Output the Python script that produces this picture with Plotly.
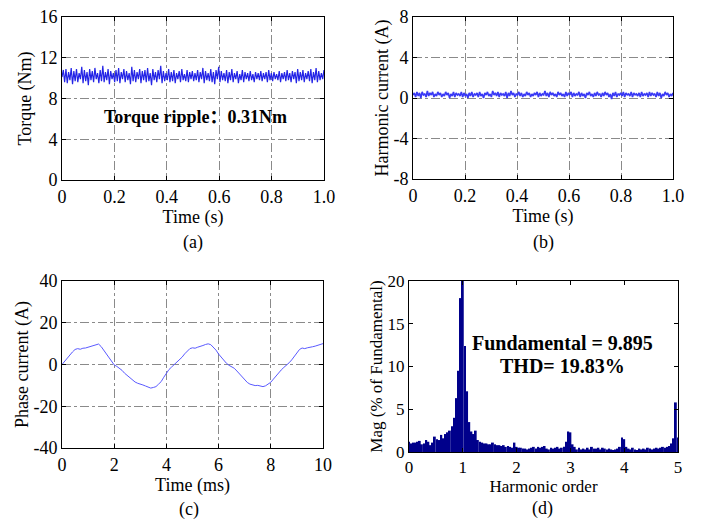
import numpy as np
import plotly.graph_objects as go

# (a) electromagnetic torque, Nm, sampled evenly over 0-1 s
torque = [10.1, 10.8, 9.6, 10.9, 9.5, 10.6, 9.8, 11.0, 9.4, 10.7, 9.7, 10.9, 9.6, 10.5, 9.9, 11.1, 9.5, 10.8, 9.7, 10.6,
          9.3, 10.9, 9.8, 10.7, 9.6, 11.0, 9.9, 10.5, 9.5, 10.8, 9.7, 11.2, 9.6, 10.6, 9.8, 10.9, 9.4, 10.7, 9.9, 10.5,
          9.6, 10.8, 9.7, 11.0, 9.5, 10.6, 9.9, 10.9, 9.6, 10.7, 9.8, 10.5, 9.4, 11.1, 9.7, 10.8, 9.6, 10.6, 9.9, 10.9,
          9.5, 10.7, 9.8, 10.8, 9.6, 11.0, 9.7, 10.5, 9.3, 10.9, 9.8, 10.6, 9.6, 10.8, 9.9, 11.2, 9.5, 10.7, 9.7, 10.5,
          9.8, 10.9, 9.6, 10.6, 9.7, 10.8, 9.5, 10.5, 9.9, 10.7, 9.6, 10.9, 9.8, 10.4, 9.7, 10.8, 9.6, 10.6, 9.9, 10.7,
          9.7, 10.5, 9.8, 10.8, 9.6, 10.6, 9.9, 11.0, 9.5, 10.7, 9.8, 10.5, 9.7, 10.9, 9.6, 10.6, 9.4, 10.8, 9.9, 11.1,
          9.6, 10.7, 9.8, 10.5, 9.7, 10.8, 9.5, 10.6, 9.8, 10.9, 9.6, 10.5, 9.9, 10.7, 9.5, 10.4, 9.8, 10.8, 9.6, 10.6,
          9.9, 10.5, 9.7, 10.7, 9.8, 10.4, 9.6, 10.6, 9.9, 10.5, 9.8, 10.7, 9.7, 10.5, 9.9, 10.6, 9.6, 10.8, 9.8, 10.5,
          9.7, 10.6, 9.9, 10.4, 9.8, 10.7, 9.6, 10.5, 9.9, 10.6, 9.7, 10.8, 9.8, 10.5, 9.6, 10.7, 9.9, 10.6, 9.5, 10.9,
          9.7, 10.6, 9.8, 10.8, 9.6, 10.5, 9.9, 10.7, 9.7, 10.9, 9.5, 10.6, 9.8, 11.0, 9.6, 10.7, 9.8, 10.5, 9.9, 10.8]

# (b) harmonic current, A, over 0-1 s
harm_current = [0.3, 0.5, 0.1, 0.6, 0.2, 0.5, 0.0, 0.6, 0.3, 0.4, 0.1, 0.7, 0.2, 0.5, 0.3, 0.6, 0.1, 0.4, 0.2, 0.6,
                0.3, 0.5, 0.1, 0.4, 0.2, 0.6, 0.3, 0.5, 0.0, 0.4, 0.2, 0.6, 0.1, 0.5, 0.3, 0.4, 0.2, 0.6, 0.1, 0.5,
                0.2, 0.4, 0.0, 0.5, 0.2, 0.6, 0.1, 0.4, 0.3, 0.5, 0.1, 0.6, 0.2, 0.4, 0.0, 0.5, 0.3, 0.6, 0.2, 0.4,
                0.1, 0.7, 0.3, 0.5, 0.2, 0.6, 0.1, 0.5, 0.3, 0.4, 0.2, 0.6, 0.0, 0.5, 0.2, 0.7, 0.3, 0.5, 0.1, 0.4,
                0.3, 0.6, 0.2, 0.5, 0.1, 0.4, 0.2, 0.6, 0.3, 0.5, 0.1, 0.4, 0.2, 0.5, 0.3, 0.6, 0.1, 0.5, 0.2, 0.4,
                0.3, 0.7, 0.2, 0.5, 0.1, 0.6, 0.3, 0.5, 0.2, 0.4, 0.1, 0.6, 0.3, 0.5, 0.2, 0.4, 0.1, 0.6, 0.2, 0.5,
                0.3, 0.6, 0.1, 0.5, 0.2, 0.4, 0.3, 0.6, 0.1, 0.5, 0.2, 0.4, 0.0, 0.5, 0.3, 0.6, 0.2, 0.4, 0.1, 0.5,
                0.2, 0.6, 0.3, 0.4, 0.1, 0.5, 0.2, 0.6, 0.3, 0.5, 0.1, 0.4, -0.1, 0.5, 0.2, 0.6, 0.1, 0.4, 0.3, 0.5,
                0.2, 0.6, 0.1, 0.5, 0.3, 0.4, 0.2, 0.6, 0.1, 0.5, 0.3, 0.4, 0.2, 0.5, 0.1, 0.6, 0.2, 0.4, 0.3, 0.5,
                0.1, 0.6, 0.2, 0.5, 0.3, 0.4, 0.1, 0.6, 0.2, 0.5, 0.0, 0.4, 0.2, 0.6, 0.3, 0.5, 0.1, 0.4, 0.2, 0.5]

# (c) phase current, A, every 0.1 ms over 0-10 ms
phase_current = [0.0, 1.5, 3.2, 4.8, 6.0, 7.2, 7.6, 7.3, 7.8, 7.9,
                 8.3, 8.6, 8.9, 9.4, 9.8, 8.6, 6.8, 4.9, 3.0, 1.2,
                 -0.2, -0.9, -1.8, -2.8, -4.2, -5.3, -6.5, -7.6, -8.4, -9.0,
                 -9.3, -9.8, -10.3, -10.9, -11.3, -11.0, -10.6, -9.4, -8.2, -6.1,
                 -3.9, -2.4, -1.2, -0.1, 1.0, 2.3, 3.5, 5.1, 6.6, 7.6,
                 8.0, 7.8, 8.3, 8.6, 9.1, 9.6, 9.9, 9.5, 8.4, 6.9,
                 5.0, 3.4, 1.8, 0.6, -0.4, -1.0, -1.8, -3.1, -4.6, -6.0,
                 -7.5, -8.6, -9.4, -9.9, -10.1, -10.0, -10.4, -10.6, -10.2, -9.4,
                 -8.5, -7.0, -5.4, -3.8, -2.6, -1.4, -0.4, 0.8, 2.2, 3.9,
                 5.6, 7.2, 7.9, 7.6, 8.0, 8.1, 8.5, 8.8, 9.2, 9.6, 10.0]

# (d) FFT spectrum, % of fundamental, harmonic order step 0.04
spec_mag = [1.2, 1.0, 1.1, 1.1, 1.2, 1.3, 0.9, 1.0, 1.4, 1.2,
            0.8, 1.1, 1.8, 1.5, 1.4, 2.0, 1.6, 2.1, 2.3, 2.5,
            3.0, 4.0, 6.3, 9.5, 18.0, 20.0, 12.4, 7.1, 3.5, 2.4,
            2.1, 2.5, 1.4, 1.2, 1.1, 1.0, 1.0, 0.9, 0.9, 1.1,
            0.9, 0.8, 0.8, 0.7, 0.8, 0.6, 0.7, 0.6, 0.5, 1.1,
            0.6, 0.5, 0.5, 0.4, 0.4, 0.3, 0.4, 0.5, 0.6, 0.4,
            0.6, 0.5, 0.6, 0.7, 0.4, 0.3, 0.5, 0.4, 0.5, 0.6,
            0.4, 0.5, 0.6, 1.2, 2.4, 2.3, 0.9, 0.6, 0.3, 0.5,
            0.3, 0.4, 0.3, 0.5, 0.3, 0.6, 0.4, 0.4, 0.5, 0.3,
            0.5, 0.4, 0.3, 0.4, 0.3, 0.2, 0.3, 0.4, 0.6, 1.7,
            1.5, 0.6, 0.4, 0.3, 0.5, 0.3, 0.2, 0.4, 0.3, 0.4,
            0.3, 0.5, 0.4, 0.3, 0.4, 0.5, 0.4, 0.5, 0.6, 0.5,
            0.6, 0.7, 1.0, 1.6, 5.8, 1.7]

# tick labels as printed in the figure
time_s_ticks = [0, 0.2, 0.4, 0.6, 0.8, 1.0]
time_s_text = ["0", "0.2", "0.4", "0.6", "0.8", "1.0"]
torque_ticks = [0, 4, 8, 12, 16]
harm_ticks = [-8, -4, 0, 4, 8]
harm_text = ["-8", "-4", "0", "4", "8"]
time_ms_ticks = [0, 2, 4, 6, 8, 10]
phase_ticks = [-40, -20, 0, 20, 40]
phase_text = ["-40", "-20", "0", "20", "40"]
order_ticks = [0, 1, 2, 3, 4, 5]
mag_ticks = [0, 5, 10, 15, 20]

t_a = np.linspace(0, 1, len(torque))
t_b = np.linspace(0, 1, len(harm_current))
t_c = np.linspace(0, 10, len(phase_current))
harm_order = np.linspace(0, 5, len(spec_mag))

font = "Liberation Serif, Times New Roman, serif"
W, H = 710, 523
PAD = 8  # page body margin in the browser


def dom_x(left, right):
    return [(left - PAD) / W, (right - PAD) / W]


def dom_y(top, bottom):
    return [1 - (bottom - PAD) / H, 1 - (top - PAD) / H]


fig = go.Figure()
fig.add_trace(go.Scatter(x=t_a, y=torque, mode="lines", line=dict(color="#2424e6", width=1.2),
                         xaxis="x", yaxis="y"))
fig.add_trace(go.Scatter(x=t_b, y=harm_current, mode="lines", line=dict(color="#3a3af5", width=1.6),
                         xaxis="x2", yaxis="y2"))
fig.add_trace(go.Scatter(x=t_c, y=phase_current, mode="lines", line=dict(color="#5a5aff", width=1),
                         xaxis="x3", yaxis="y3"))
fig.add_trace(go.Bar(x=harm_order, y=spec_mag, marker=dict(color="#00008b", line=dict(width=0)),
                     xaxis="x4", yaxis="y4"))


def ax_style(grid=True, size=18):
    return dict(showline=True, linecolor="black", linewidth=1, mirror="ticks",
                ticks="inside", ticklen=4, tickcolor="black", automargin=False,
                ticklabeloverflow="allow",
                showgrid=grid, gridcolor="#8a8a8a", griddash="dashdot", gridwidth=1,
                zeroline=False, tickfont=dict(family=font, size=size, color="black"),
                title_font=dict(family=font, size=size, color="black"))


fig.update_layout(
    width=W, height=H, margin=dict(l=0, r=0, t=0, b=0),
    paper_bgcolor="white", plot_bgcolor="white", showlegend=False, bargap=0.12,
    xaxis=dict(domain=dom_x(62, 324), anchor="y", range=[0, 1],
               tickvals=time_s_ticks, ticktext=time_s_text,
               title=dict(text="Time (s)", standoff=0), **ax_style()),
    yaxis=dict(domain=dom_y(17, 180), anchor="x", range=[0, 16], tickvals=torque_ticks,
               title=dict(text="Torque (Nm)", standoff=3), **ax_style()),
    xaxis2=dict(domain=dom_x(413, 673), anchor="y2", range=[0, 1],
                tickvals=time_s_ticks, ticktext=time_s_text,
                title=dict(text="Time (s)", standoff=0), **ax_style()),
    yaxis2=dict(domain=dom_y(17, 179), anchor="x2", range=[-8, 8], tickvals=harm_ticks, ticktext=harm_text,
                title=dict(text="Harmonic current (A)", standoff=0), **ax_style()),
    xaxis3=dict(domain=dom_x(62, 323), anchor="y3", range=[0, 10], tickvals=time_ms_ticks,
                title=dict(text="Time (ms)", standoff=0), **ax_style()),
    yaxis3=dict(domain=dom_y(281, 448), anchor="x3", range=[-40, 40], tickvals=phase_ticks, ticktext=phase_text,
                title=dict(text="Phase current (A)", standoff=0), **ax_style()),
    xaxis4=dict(domain=dom_x(409, 678), anchor="y4", range=[0, 5], tickvals=order_ticks,
                title=dict(text="Harmonic order", standoff=2), **ax_style(False, 17)),
    yaxis4=dict(domain=dom_y(281, 452), anchor="x4", range=[0, 20], tickvals=mag_ticks,
                title=dict(text="Mag (% of Fundamental)", standoff=0), **ax_style(False, 17)),
)

fig.add_annotation(x=0.51, y=6.2, xref="x", yref="y", text="<b>Torque ripple：0.31Nm</b>",
                   showarrow=False, xanchor="center", yanchor="middle",
                   font=dict(family="Liberation Serif, Noto Sans CJK SC, serif", size=18, color="black"))
fig.add_annotation(x=2.85, y=12.8, xref="x4", yref="y4", text="<b>Fundamental = 9.895</b>",
                   showarrow=False, xanchor="center", yanchor="middle",
                   font=dict(family=font, size=20, color="black"))
fig.add_annotation(x=2.85, y=10.1, xref="x4", yref="y4", text="<b>THD= 19.83%</b>",
                   showarrow=False, xanchor="center", yanchor="middle",
                   font=dict(family=font, size=20, color="black"))

for label, px_x, px_y in [("(a)", 193, 242), ("(b)", 543, 242), ("(c)", 189, 509), ("(d)", 542, 508)]:
    fig.add_annotation(x=(px_x - PAD) / W, y=1 - (px_y - PAD) / H, xref="paper", yref="paper", text=label,
                       showarrow=False, xanchor="center", yanchor="middle",
                       font=dict(family=font, size=18, color="black"))

fig.write_html("out.html")
